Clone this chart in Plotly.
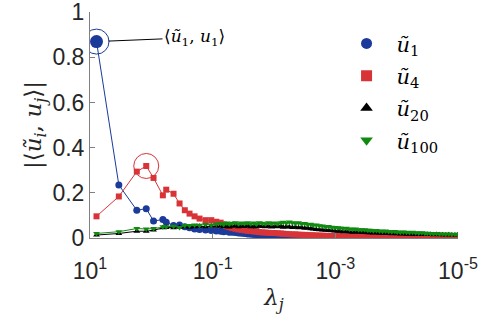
import plotly.graph_objects as go

# log10 of the eigenvalues lambda_j (x positions)
lam_exp = [
    0.894, 0.530, 0.237, 0.083, -0.036, -0.188, -0.243, -0.362, -0.460, -0.546,
    -0.623, -0.705, -0.786, -0.884, -0.977, -1.059,
    -1.13, -1.18, -1.23, -1.27, -1.32, -1.37, -1.42, -1.47, -1.52, -1.57,
    -1.62, -1.67, -1.71, -1.76, -1.81, -1.86, -1.91, -1.96, -2.01, -2.06,
    -2.11, -2.15, -2.20, -2.25, -2.30, -2.35, -2.40, -2.45, -2.50, -2.55,
    -2.60, -2.64, -2.69, -2.74, -2.79, -2.84, -2.89, -2.94, -2.99, -3.04,
    -3.08, -3.13, -3.18, -3.23, -3.28, -3.33, -3.38, -3.43, -3.48, -3.53,
    -3.57, -3.62, -3.67, -3.72, -3.77, -3.82, -3.87, -3.92, -3.97, -4.01,
    -4.06, -4.11, -4.16, -4.21, -4.26, -4.31, -4.36, -4.41, -4.46, -4.50,
    -4.55, -4.60, -4.65, -4.70, -4.75, -4.80, -4.85, -4.90, -4.95, -4.99,
]
lam = [10 ** e for e in lam_exp]

u1 = [
    0.870, 0.235, 0.123, 0.130, 0.075, 0.082, 0.070, 0.055, 0.058, 0.050,
    0.045, 0.040, 0.038, 0.035, 0.033, 0.031,
    0.030, 0.028, 0.031, 0.026, 0.025, 0.024, 0.022, 0.021, 0.020, 0.018,
    0.017, 0.016, 0.015, 0.013, 0.012, 0.012, 0.011, 0.010, 0.010, 0.009,
    0.008, 0.008, 0.008, 0.007, 0.007, 0.006, 0.006, 0.006, 0.005, 0.005,
    0.005, 0.005, 0.004, 0.004, 0.004, 0.004, 0.004, 0.003, 0.003, 0.003,
    0.003, 0.003, 0.003, 0.003, 0.002, 0.002, 0.002, 0.002, 0.002, 0.002,
    0.002, 0.002, 0.001, 0.002, 0.002, 0.001, 0.002, 0.001, 0.001, 0.002,
    0.001, 0.001, 0.001, 0.001, 0.001, 0.001, 0.001, 0.001, 0.001, 0.001,
    0.001, 0.001, 0.001, 0.001, 0.001, 0.001, 0.001, 0.001, 0.001, 0.001,
]
u4 = [
    0.096, 0.184, 0.294, 0.319, 0.266, 0.189, 0.214, 0.196, 0.153, 0.123,
    0.108, 0.096, 0.086, 0.079, 0.079, 0.072,
    0.068, 0.060, 0.052, 0.048, 0.044, 0.041, 0.038, 0.036, 0.034, 0.032,
    0.031, 0.029, 0.028, 0.026, 0.025, 0.024, 0.023, 0.022, 0.022, 0.021,
    0.020, 0.019, 0.018, 0.017, 0.016, 0.016, 0.015, 0.014, 0.014, 0.013,
    0.012, 0.012, 0.011, 0.011, 0.010, 0.010, 0.009, 0.009, 0.009, 0.008,
    0.008, 0.008, 0.007, 0.007, 0.007, 0.007, 0.006, 0.006, 0.006, 0.006,
    0.006, 0.006, 0.005, 0.006, 0.005, 0.005, 0.005, 0.005, 0.005, 0.005,
    0.005, 0.004, 0.005, 0.004, 0.004, 0.005, 0.004, 0.004, 0.004, 0.004,
    0.004, 0.004, 0.004, 0.004, 0.004, 0.004, 0.004, 0.004, 0.004, 0.004,
]
u20 = [
    0.013, 0.020, 0.030, 0.030, 0.035, 0.045, 0.047, 0.045, 0.048, 0.050,
    0.048, 0.050, 0.052, 0.050, 0.053, 0.052,
    0.052, 0.050, 0.054, 0.049, 0.052, 0.055, 0.050, 0.053, 0.051, 0.054,
    0.050, 0.052, 0.049, 0.053, 0.051, 0.050, 0.052, 0.049, 0.051, 0.050,
    0.052, 0.048, 0.050, 0.049, 0.047, 0.048, 0.045, 0.046, 0.043, 0.044,
    0.041, 0.040, 0.038, 0.037, 0.035, 0.034, 0.033, 0.032, 0.031, 0.030,
    0.030, 0.028, 0.029, 0.027, 0.026, 0.027, 0.025, 0.024, 0.025, 0.023,
    0.023, 0.022, 0.023, 0.021, 0.021, 0.020, 0.021, 0.019, 0.020, 0.019,
    0.018, 0.019, 0.017, 0.018, 0.017, 0.016, 0.017, 0.016, 0.015, 0.016,
    0.015, 0.014, 0.015, 0.014, 0.014, 0.013, 0.014, 0.013, 0.013, 0.013,
]
u100 = [
    0.020, 0.028, 0.042, 0.040, 0.042, 0.050, 0.050, 0.052, 0.047, 0.055,
    0.055, 0.058, 0.056, 0.060, 0.058, 0.062,
    0.064, 0.060, 0.066, 0.062, 0.065, 0.068, 0.063, 0.066, 0.064, 0.067,
    0.063, 0.066, 0.062, 0.068, 0.065, 0.063, 0.067, 0.064, 0.066, 0.063,
    0.068, 0.070, 0.066, 0.071, 0.067, 0.065, 0.068, 0.063, 0.064, 0.060,
    0.061, 0.057, 0.058, 0.054, 0.053, 0.050, 0.051, 0.048, 0.047, 0.045,
    0.044, 0.042, 0.043, 0.040, 0.039, 0.040, 0.037, 0.036, 0.037, 0.034,
    0.034, 0.032, 0.033, 0.031, 0.030, 0.031, 0.029, 0.028, 0.029, 0.027,
    0.026, 0.027, 0.025, 0.024, 0.025, 0.023, 0.022, 0.023, 0.021, 0.021,
    0.020, 0.019, 0.020, 0.018, 0.018, 0.017, 0.018, 0.016, 0.017, 0.016,
]

series_names = ["<i>ũ</i><sub>1</sub>", "<i>ũ</i><sub>4</sub>",
                "<i>ũ</i><sub>20</sub>", "<i>ũ</i><sub>100</sub>"]
series_vals = [u1, u4, u20, u100]
colors = ["#1b3a9a", "#d83438", "#000000", "#118a11"]
symbols = ["circle", "square", "triangle-up", "triangle-down"]
msizes = [7, 6, 6, 6]

x_tickvals = [10, 0.1, 0.001, 0.00001]
x_ticktext = ["10<sup>1</sup>", "10<sup>-1</sup>", "10<sup>-3</sup>", "10<sup>-5</sup>"]
y_tickvals = [0, 0.2, 0.4, 0.6, 0.8, 1]
y_ticktext = ["0", "0.2", "0.4", "0.6", "0.8", "1"]

fig = go.Figure()
for name, vals, c, s, ms in zip(series_names, series_vals, colors, symbols, msizes):
    sizes = [ms] * len(vals)
    if vals is u1:
        sizes[0] = 13
    fig.add_trace(go.Scatter(
        x=lam, y=vals, mode="lines+markers", showlegend=False,
        line=dict(color=c, width=1),
        marker=dict(color=c, symbol=s, size=sizes, opacity=1, line=dict(width=0)),
    ))

# highlight rings around <u~1,u1> and the peak of u~4
for vals, c, idx in [(u1, colors[0], 0), (u4, colors[1], 3)]:
    fig.add_trace(go.Scatter(
        x=[lam[idx]], y=[vals[idx]], mode="markers", showlegend=False, hoverinfo="skip",
        marker=dict(symbol="circle-open", size=25, color=c, opacity=1, line=dict(color=c, width=1)),
    ))

for i, (name, c, s) in enumerate(zip(series_names, colors, symbols)):
    fig.add_trace(go.Scatter(
        x=[None], y=[None], mode="markers", name=name, legendgroup=f"g{i}",
        marker=dict(color=c, symbol=s, size=11, opacity=1, line=dict(width=0)),
    ))

axis_col = "#262626"
tick_font = dict(family="Liberation Sans, Arial, sans-serif", size=23, color=axis_col)
serif = "DejaVu Serif, Liberation Serif, serif"

fig.update_xaxes(
    type="log", range=[1, -5], tickvals=x_tickvals, ticktext=x_ticktext,
    ticks="inside", ticklen=5, tickcolor="#808080", showline=True, linecolor="#808080",
    linewidth=1, showgrid=False, zeroline=False, tickfont=tick_font, ticklabelstandoff=12,
    ticklabeloverflow="allow", automargin=False,
    title=dict(text="<i>λ</i><sub><i>j</i></sub>", font=dict(family=serif, size=23, color=axis_col), standoff=6),
)
fig.update_yaxes(
    range=[0, 1.001], tickvals=y_tickvals, ticktext=y_ticktext,
    ticks="inside", ticklen=5, tickcolor="#808080", showline=True, linecolor="#808080",
    linewidth=1, showgrid=False, zeroline=False, tickfont=tick_font,
    ticklabeloverflow="allow", automargin=False,
    title=dict(text="|⟨<i>ũ</i><sub><i>i</i></sub>, <i>u</i><sub><i>j</i></sub>⟩|",
               font=dict(family=serif, size=23, color=axis_col), standoff=4),
)

fig.add_annotation(
    x=lam_exp[0], y=u1[0], xref="x", yref="y",
    text="⟨<i>ũ</i><sub>1</sub>, <i>u</i><sub>1</sub>⟩",
    showarrow=True, arrowhead=0, arrowwidth=1, arrowcolor="black", standoff=12,
    ax=98, ay=-4, font=dict(family=serif, size=17, color="black"),
)

fig.update_layout(
    width=488, height=330,
    margin=dict(l=90, r=30, t=12, b=92),
    plot_bgcolor="white", paper_bgcolor="white",
    legend=dict(x=0.67, y=0.95, xanchor="left", yanchor="top",
                font=dict(family=serif, size=21, color="black"),
                itemwidth=50, traceorder="grouped", tracegroupgap=2,
                bgcolor="rgba(0,0,0,0)"),
)

fig.write_html("out.html")
